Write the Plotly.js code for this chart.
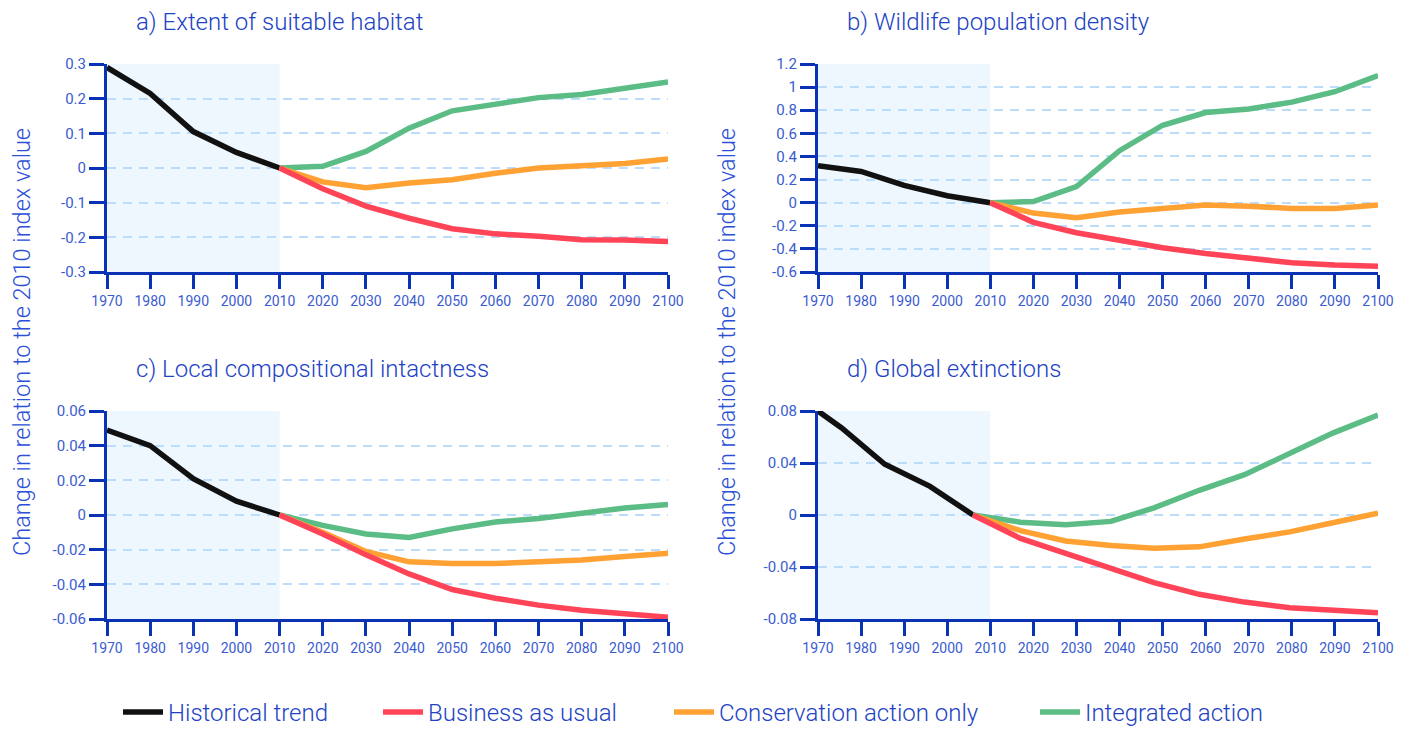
<!DOCTYPE html>
<html>
<head>
<meta charset="utf-8">
<script src="https://cdn.plot.ly/plotly-3.0.1.min.js"></script>
<style>
  html, body { margin: 0; padding: 0; background: #ffffff; }
  #chart { width: 1411px; height: 729px; }
</style>
</head>
<body>
<div id="chart"></div>
<script>
// ---------- data ----------
const seriesNames = ["Historical trend", "Business as usual", "Conservation action only", "Integrated action"];

const histYears = [1970, 1980, 1990, 2000, 2010];
const futYears = [2010, 2020, 2030, 2040, 2050, 2060, 2070, 2080, 2090, 2100];

// a) Extent of suitable habitat
const aHist = [0.29, 0.215, 0.105, 0.045, 0];
const aBAU  = [0, -0.06, -0.11, -0.145, -0.175, -0.19, -0.197, -0.207, -0.208, -0.212];
const aCons = [0, -0.04, -0.057, -0.043, -0.034, -0.015, 0, 0.005, 0.013, 0.026];
const aInt  = [0, 0.005, 0.048, 0.115, 0.165, 0.185, 0.203, 0.212, 0.228, 0.248];

// b) Wildlife population density
const bHist = [0.32, 0.27, 0.15, 0.06, 0];
const bBAU  = [0, -0.17, -0.26, -0.33, -0.39, -0.44, -0.48, -0.52, -0.54, -0.55];
const bCons = [0, -0.09, -0.13, -0.08, -0.05, -0.02, -0.03, -0.05, -0.05, -0.02];
const bInt  = [0, 0.01, 0.14, 0.45, 0.67, 0.78, 0.81, 0.87, 0.96, 1.10];

// c) Local compositional intactness
const cHist = [0.049, 0.040, 0.021, 0.008, 0];
const cBAU  = [0, -0.011, -0.023, -0.034, -0.043, -0.048, -0.052, -0.055, -0.057, -0.059];
const cCons = [0, -0.010, -0.021, -0.027, -0.028, -0.028, -0.027, -0.026, -0.024, -0.022];
const cInt  = [0, -0.006, -0.011, -0.013, -0.008, -0.004, -0.002, 0.001, 0.004, 0.006];

// d) Global extinctions (points sit slightly off the decade marks)
const dHistYears = [1970, 1975.5, 1985.5, 1996, 2006];
const dFutYears  = [2006, 2017, 2027.5, 2038, 2048, 2058.5, 2069, 2079.5, 2089.5, 2100];
const dHist = [0.08, 0.067, 0.039, 0.022, 0];
const dBAU  = [0, -0.018, -0.0295, -0.041, -0.052, -0.061, -0.067, -0.0714, -0.0736, -0.0752];
const dCons = [0, -0.012, -0.020, -0.0235, -0.0255, -0.0245, -0.0185, -0.013, -0.006, 0.0013];
const dInt  = [0, -0.0055, -0.0075, -0.0049, 0.0055, 0.019, 0.031, 0.047, 0.063, 0.0768];

// ticks
const xTickVals = [1970, 1980, 1990, 2000, 2010, 2020, 2030, 2040, 2050, 2060, 2070, 2080, 2090, 2100];
const xTickText = ["1970","1980","1990","2000","2010","2020","2030","2040","2050","2060","2070","2080","2090","2100"];
const aTickVals = [-0.3, -0.2, -0.1, 0, 0.1, 0.2, 0.3];
const aTickText = ["-0.3", "-0.2", "-0.1", "0", "0.1", "0.2", "0.3"];
const bTickVals = [-0.6, -0.4, -0.2, 0, 0.2, 0.4, 0.6, 0.8, 1, 1.2];
const bTickText = ["-0.6", "-0.4", "-0.2", "0", "0.2", "0.4", "0.6", "0.8", "1", "1.2"];
const cTickVals = [-0.06, -0.04, -0.02, 0, 0.02, 0.04, 0.06];
const cTickText = ["-0.06", "-0.04", "-0.02", "0", "0.02", "0.04", "0.06"];
const dTickVals = [-0.08, -0.04, 0, 0.04, 0.08];
const dTickText = ["-0.08", "-0.04", "0", "0.04", "0.08"];

const panelTitles = ["a) Extent of suitable habitat", "b) Wildlife population density",
                     "c) Local compositional intactness", "d) Global extinctions"];
const yAxisTitle = "Change in relation to the 2010 index value";

// ---------- styling ----------
const colors = ["#111111", "#ff4458", "#ffa133", "#5bbd85"];
const legendWidths = [205, 236, 311, 200];
const FONT = "Roboto, 'Noto Sans', 'DejaVu Sans', sans-serif";
const axisBlue = "#0a32b4";
const tickBlue = "#3a5ccf";
const titleBlue = "#2142c4";
const gridBlue = "#bcdcfb";

const panels = [
  {hx: histYears, fx: futYears, h: aHist, bau: aBAU, cons: aCons, int: aInt, tv: aTickVals, tt: aTickText, range: [-0.3, 0.3]},
  {hx: histYears, fx: futYears, h: bHist, bau: bBAU, cons: bCons, int: bInt, tv: bTickVals, tt: bTickText, range: [-0.6, 1.2]},
  {hx: histYears, fx: futYears, h: cHist, bau: cBAU, cons: cCons, int: cInt, tv: cTickVals, tt: cTickText, range: [-0.06, 0.06]},
  {hx: dHistYears, fx: dFutYears, h: dHist, bau: dBAU, cons: dCons, int: dInt, tv: dTickVals, tt: dTickText, range: [-0.08, 0.08]}
];

const W = 1411, H = 729;
const xDomains = [[107 / W, 668 / W], [818 / W, 1378 / W]];
const yDomains = [[1 - 272 / H, 1 - 64 / H], [1 - 619 / H, 1 - 411 / H]];

const traces = [];
const layout = {
  width: W, height: H,
  margin: {l: 0, r: 0, t: 0, b: 0, autoexpand: false},
  paper_bgcolor: "#ffffff",
  plot_bgcolor: "rgba(0,0,0,0)",
  font: {family: FONT, color: tickBlue},
  showlegend: true,
  legend: {
    orientation: "h", x: 118 / W, xanchor: "left", y: -6 / H, yanchor: "bottom",
    font: {family: FONT, size: 24, color: titleBlue, weight: 300},
    itemwidth: 40, traceorder: "normal"
  },
  shapes: [],
  annotations: []
};

panels.forEach((p, i) => {
  const n = i + 1;
  const xa = n === 1 ? "x" : "x" + n;
  const ya = n === 1 ? "y" : "y" + n;
  const col = i % 2, row = Math.floor(i / 2);
  const leg = i === 0;
  const lineOf = (k) => ({color: colors[k], width: 5.5});
  const mk = (k, xs, ys) => ({x: xs, y: ys, xaxis: xa, yaxis: ya, mode: "lines", name: seriesNames[k],
    line: lineOf(k), showlegend: leg, legendrank: k + 1, legendwidth: legendWidths[k], hoverinfo: "skip"});
  traces.push(mk(0, p.hx, p.h));
  traces.push(mk(3, p.fx, p.int));
  traces.push(mk(2, p.fx, p.cons));
  traces.push(mk(1, p.fx, p.bau));

  const xk = n === 1 ? "xaxis" : "xaxis" + n;
  const yk = n === 1 ? "yaxis" : "yaxis" + n;
  layout[xk] = {
    domain: xDomains[col], anchor: ya, range: [1970, 2100],
    tickmode: "array", tickvals: xTickVals, ticktext: xTickText,
    showgrid: false, zeroline: false,
    showline: true, linecolor: axisBlue, linewidth: 3,
    ticks: "outside", ticklen: 14, tickwidth: 3, tickcolor: axisBlue,
    tickfont: {family: FONT, size: 14, color: tickBlue}, fixedrange: true
  };
  layout[yk] = {
    domain: yDomains[row], anchor: xa, range: p.range,
    tickmode: "array", tickvals: p.tv, ticktext: p.tt,
    showgrid: true, gridcolor: gridBlue, gridwidth: 2, griddash: "9px,7px",
    zeroline: false,
    showline: true, linecolor: axisBlue, linewidth: 3,
    ticks: "outside", ticklen: 15, tickwidth: 3, tickcolor: axisBlue,
    tickfont: {family: FONT, size: 15, color: tickBlue}, fixedrange: true
  };
  layout.shapes.push({
    type: "rect", xref: xa, yref: ya + " domain", x0: 1970, x1: 2010, y0: 0, y1: 1,
    fillcolor: "#eef6fe", line: {width: 0}, layer: "below"
  });
  layout.annotations.push({
    text: panelTitles[i], xref: "paper", yref: "paper",
    x: (col === 0 ? 134 : 845) / W, y: 1 - (row === 0 ? 22 : 369) / H,
    xanchor: "left", yanchor: "middle", showarrow: false,
    font: {family: FONT, size: 24, color: titleBlue, weight: 300}
  });
});

[22, 727].forEach((px) => {
  layout.annotations.push({
    text: yAxisTitle, xref: "paper", yref: "paper",
    x: px / W, y: 1 - 342 / H, xanchor: "center", yanchor: "middle",
    textangle: -90, showarrow: false,
    font: {family: FONT, size: 23.5, color: "#2b50d6", weight: 300}
  });
});

Plotly.newPlot("chart", traces, layout, {staticPlot: true, displayModeBar: false});
</script>
</body>
</html>
